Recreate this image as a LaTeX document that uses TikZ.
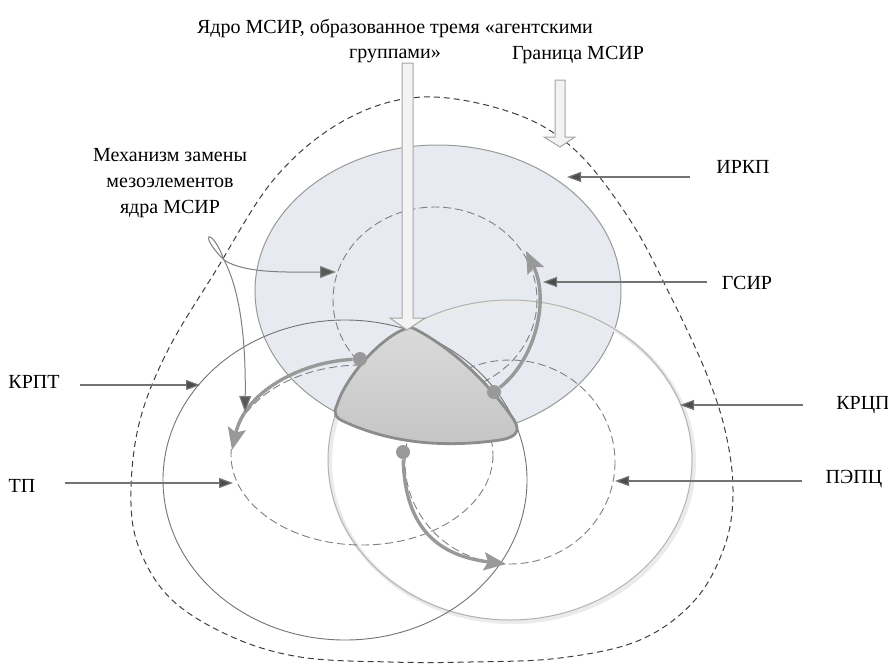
\documentclass[tikz,border=0pt]{standalone}
\usepackage{fontspec}
\setmainfont{Liberation Serif}
\usetikzlibrary{arrows.meta}
\definecolor{irkpfill}{HTML}{E7EAF0}
\definecolor{corelight}{HTML}{DADADA}
\definecolor{coredark}{HTML}{C4C4C4}
\definecolor{hollowfill}{HTML}{F3F3F3}
\tikzset{
	lblarrow/.style={draw=black!55, line width=0.6pt, -{Triangle[length=7pt,width=5pt,fill=black!70]}},
	mecharrow/.style={draw=black!50, line width=0.5pt, -{Triangle[length=8pt,width=6pt,fill=black!65]}},
	flowarrow/.style={draw=black!40, line width=1.7pt, -{Stealth[length=11pt,width=9pt,inset=2pt]}},
	innercirc/.style={draw=black!50, line width=0.45pt, dash pattern=on 4pt off 2pt},
	hollowarrow/.style={fill=hollowfill, draw=black!35, line width=0.5pt},
	dot/.style={circle, fill=black!40, inner sep=0pt, minimum size=7pt},
	lbl/.style={font=\fontsize{10}{12.8}\selectfont, inner sep=0pt}
}
\begin{document}
\begin{tikzpicture}[x=0.5pt,y=-0.5pt]
	\fill[white] (0,0) rectangle (888,664);
	\useasboundingbox (0,0) rectangle (888,664);
	% boundary of the system
	\draw[black!75, line width=0.5pt, dash pattern=on 3pt off 2pt] plot[smooth cycle, tension=0.6] coordinates {(423,97) (513,113) (575,150) (630,220) (670,295) (705,370) (725,430) (733,490) (725,545) (695,600) (640,640) (560,658) (470,662) (390,662) (300,657) (230,636) (170,598) (138,545) (131,490) (140,420) (168,350) (215,272) (275,178) (345,120)};
	% the big ellipse and the two circles
	\draw[fill=irkpfill, draw=black!40, line width=0.5pt] (438,291) ellipse [x radius=183, y radius=146];
	\draw[black!8, line width=2pt] (512,462) ellipse [x radius=182, y radius=160];
	\draw[black!30, line width=0.5pt] (510,460) ellipse [x radius=182, y radius=160];
	\draw[black!55, line width=0.45pt] (345,480) ellipse [x radius=182, y radius=160];
	% inner dashed circles
	\draw[innercirc] (435,300) ellipse [x radius=102, y radius=93];
	\draw[innercirc] (362,455) ellipse [x radius=131, y radius=90];
	\draw[innercirc] (510,462) ellipse [x radius=105, y radius=102];
	% core
	\draw[top color=corelight, bottom color=coredark, draw=black!45, line width=1.4pt]
		(405,329) .. controls (380,338) and (345,378) .. (337,405)
		.. controls (333,413) and (335,418) .. (345,422)
		.. controls (380,438) and (430,450) .. (500,440)
		.. controls (518,437) and (520,430) .. (514,420)
		.. controls (490,385) and (455,350) .. (415,329)
		.. controls (411,327) and (408,327) .. cycle;
	\node[dot] (dotL) at (360,359) {};
	\node[dot] (dotR) at (494,392) {};
	\node[dot] (dotB) at (403,452) {};
	\coordinate (tipTP) at (232,450);
	\coordinate (tipGS) at (526,251);
	\coordinate (tipPE) at (506,564);
	\draw[flowarrow] (dotL) .. controls (300,362) and (245,392) .. (tipTP);
	\draw[flowarrow] (dotR) .. controls (535,360) and (550,300) .. (tipGS);
	\draw[flowarrow] (dotB) .. controls (405,530) and (440,556) .. (tipPE);
	% hollow arrows
	\draw[hollowarrow] (402,63) -- (413,63) -- (413,318) -- (425,318) -- (407,330) -- (390,318) -- (402,318) -- cycle;
	\draw[hollowarrow] (555,80) -- (565,80) -- (565,137) -- (575,137) -- (560,147) -- (544,137) -- (555,137) -- cycle;
	% texts on top
	\node[lbl, align=center] (yadro) at (395,41) {Ядро МСИР, образованное тремя «агентскими\\группами»};
	\node[lbl] (granica) at (578,55) {Граница МСИР};
	\node[lbl, align=center] (mech) at (170,183) {Механизм замены\\мезоэлементов\\ядра МСИР};
	% mechanism of replacement
	\coordinate (mloop) at (224,260);
	\coordinate (mtipA) at (336,272);
	\coordinate (mtipB) at (245,412);
	\draw[black!50, line width=0.5pt] (mloop) .. controls (196,232) and (212,226) .. (mloop);
	\draw[mecharrow] (mloop) .. controls (245,274) and (290,272) .. (mtipA);
	\draw[mecharrow] (mloop) .. controls (240,290) and (246,340) .. (mtipB);
	% labels with arrows
	\foreach \nm/\txt/\lx/\ly/\sx/\tx/\ay in {irkp/ИРКП/743/167/690/567/177, gsir/ГСИР/747/283/707/543/282, krcp/КРЦП/863/405/803/680/405, pepc/ПЭПЦ/854/479/802/615/481, krpt/КРПТ/34/382/80/200/385, tp/ТП/22/486/65/233/483}{
		\node[lbl] (\nm) at (\lx,\ly) {\txt};
		\coordinate (\nm-s) at (\sx,\ay);
		\coordinate (\nm-t) at (\tx,\ay);
		\draw[lblarrow] (\nm-s) -- (\nm-t);
	}
\end{tikzpicture}
\end{document}
